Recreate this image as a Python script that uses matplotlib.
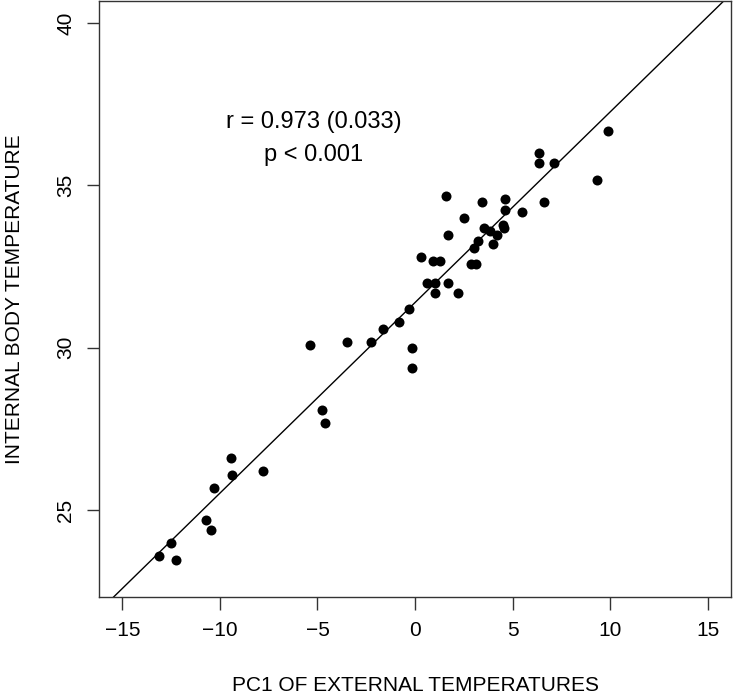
import matplotlib
matplotlib.use("Agg")
import matplotlib.pyplot as plt
import numpy as np

plt.rcParams["font.family"] = ["Liberation Sans", "DejaVu Sans"]

# PC1 of external temperatures vs internal body temperature
pc1 = [-13.14, -12.52, -12.27, -10.74, -10.48, -10.32, -9.42, -9.40, -7.81,
       -5.38, -4.76, -4.61, -3.49, -2.24, -1.64, -0.80, -0.29, -0.17, -0.17,
       0.32, 0.63, 0.94, 1.04, 1.04, 1.28, 1.59, 1.67, 1.67, 2.18, 2.51,
       2.85, 3.00, 3.12, 3.24, 3.43, 3.56, 3.84, 3.98, 4.20, 4.49, 4.57,
       4.62, 4.62, 5.48, 6.37, 6.35, 6.61, 7.12, 9.35, 9.88]
body_temp = [23.58, 23.99, 23.46, 24.69, 24.39, 25.68, 26.61, 26.08, 26.20,
             30.08, 28.08, 27.67, 30.18, 30.18, 30.59, 30.79, 31.18, 29.98, 29.37,
             32.79, 31.98, 32.68, 31.98, 31.68, 32.68, 34.68, 33.48, 31.98, 31.68, 33.98,
             32.59, 33.08, 32.59, 33.30, 34.49, 33.69, 33.58, 33.18, 33.48, 33.78, 33.68,
             34.59, 34.25, 34.19, 35.99, 35.68, 34.49, 35.68, 35.17, 36.68]

# fitted line
intercept = 31.39
slope = 0.587

x_ticks = [-15, -10, -5, 0, 5, 10, 15]
y_ticks = [25, 30, 35, 40]

fig = plt.figure(figsize=(7.34, 6.98), dpi=100)
ax = fig.add_axes([99 / 734, 101 / 698, 632 / 734, 596 / 698])

ax.plot(pc1, body_temp, "o", color="black", markersize=7.2, markeredgewidth=0)
xs = np.array([-20, 20])
ax.plot(xs, intercept + slope * xs, color="black", linewidth=1)

ax.set_xlim(-16.2, 16.2)
ax.set_ylim(22.32, 40.68)
ax.set_xticks(x_ticks)
ax.set_yticks(y_ticks)
ax.set_yticklabels([str(t) for t in y_ticks], rotation=90, va="center")
ax.tick_params(axis="both", direction="out", length=9, width=1,
               labelsize=15, color="#333333")
ax.tick_params(axis="x", pad=8)
ax.tick_params(axis="y", pad=8)
for s in ax.spines.values():
    s.set_linewidth(1)
    s.set_color("#333333")

ax.set_xlabel("PC1 OF EXTERNAL TEMPERATURES", fontsize=15, labelpad=26)
ax.set_ylabel("INTERNAL BODY TEMPERATURE", fontsize=15, labelpad=23)

ax.text(-5.2, 36.95, "r = 0.973 (0.033)", fontsize=17, ha="center", va="center")
ax.text(-5.2, 35.93, "p < 0.001", fontsize=17, ha="center", va="center")

fig.savefig("out.png", dpi=100)
